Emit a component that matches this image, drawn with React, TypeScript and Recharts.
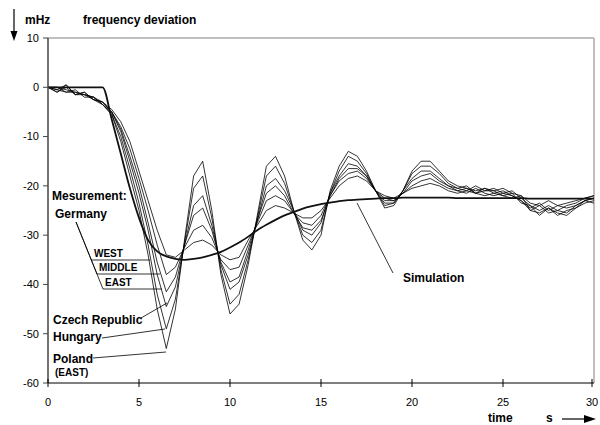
import { LineChart, Line, XAxis, YAxis, ReferenceLine } from "recharts";

// seconds
const time = [
  0, 0.5, 1, 1.5, 2, 2.5, 3, 3.5, 4, 4.5, 5, 5.5, 6, 6.5, 7, 7.5, 8, 8.5, 9, 9.5,
  10, 10.5, 11, 11.5, 12, 12.5, 13, 13.5, 14, 14.5, 15, 15.5, 16, 16.5, 17, 17.5,
  18, 18.5, 19, 19.5, 20, 20.5, 21, 21.5, 22, 22.5, 23, 23.5, 24, 24.5, 25, 25.5,
  26, 26.5, 27, 27.5, 28, 28.5, 29, 29.5, 30,
];

// mHz
const simulation = [
  0, 0, 0, 0, 0, 0, 0,
  -6.5, -13.5, -20.5, -26.5, -31, -33.3, -34.3, -34.8, -35, -34.8,
  -34.5, -34, -33.4, -32.5, -31.5, -30.3, -29, -27.9, -26.9, -26,
  -25.3, -24.6, -24.1, -23.7, -23.4, -23.1, -22.9, -22.8, -22.7, -22.6,
  -22.5, -22.5, -22.4, -22.4, -22.4, -22.4, -22.4, -22.4, -22.5, -22.5,
  -22.5, -22.5, -22.5, -22.5, -22.5, -22.5, -22.6, -22.6, -22.6, -22.6,
  -22.6, -22.6, -22.6, -22.6,
];

const west = [
  0, -0.5, -1, -0.5, -2, -2, -3,
  -4.5, -7, -11, -17, -23, -29, -34, -34.5, -33, -31.5,
  -31, -32, -34, -35, -34.5, -31, -28, -25, -24, -24.5,
  -25.5, -26.5, -26.5, -25, -22.5, -20, -18.5, -18, -19, -21,
  -22, -22.5, -21.5, -20.5, -20, -19.5, -20, -21, -21.5, -21,
  -21.5, -22, -21.5, -22, -22.5, -22, -23.5, -24, -23, -24,
  -23.5, -23, -22.5, -22,
];

const middle = [
  0, 0, -0.5, -1, -1.5, -2.5, -3,
  -5, -8, -12.5, -18.5, -25, -32, -38, -36.5, -32.5, -29,
  -28, -30.5, -35, -37, -36.5, -32, -27.5, -23, -22, -23,
  -25.5, -27.5, -28, -26, -22, -19, -17.5, -17, -18.5, -21,
  -22.5, -23, -21.5, -20, -19, -18.5, -19.5, -20.5, -21, -21.5,
  -20.5, -21.5, -22, -21.5, -22, -23, -24.5, -23.5, -25, -24,
  -24.5, -24, -23, -22.5,
];

const east = [
  0, 0, -1, -1, -1.5, -2, -3.5,
  -5, -8.5, -14, -20, -27.5, -35.5, -41.5, -38.5, -32, -26,
  -24.5, -29, -35.5, -39.5, -38.5, -33, -27, -21.5, -20, -22,
  -25.5, -28.5, -29, -27, -22, -18.5, -16.5, -16.5, -18, -21,
  -23, -23, -21.5, -19, -18, -17.5, -19, -20, -21, -20.5,
  -21.5, -21, -20.5, -21.5, -21, -22.5, -24, -25, -24, -25,
  -24, -23.5, -22.5, -22,
];

const czech = [
  0, -1, 0, -1.5, -1, -2.5, -3,
  -5, -9, -15, -21.5, -29, -38, -44.5, -40.5, -32, -24,
  -22, -28, -36, -41, -39.5, -34, -27, -20, -18.5, -21,
  -25, -29, -30, -27.5, -21.5, -18, -15.5, -16, -18, -21,
  -23.5, -23.5, -21, -18.5, -17, -17, -18.5, -20, -20.5, -21,
  -20, -21, -21, -20.5, -21.5, -22, -25, -24, -25.5, -25,
  -25.5, -24, -23, -22.5,
];

const hungary = [
  0, -0.5, 0.5, -1.5, -1.5, -2, -3.5,
  -5.5, -10, -16.5, -23.5, -32, -42, -49, -43, -31.5, -20.5,
  -18, -26.5, -37, -44, -42, -35, -26.5, -18, -16, -19.5,
  -25, -30, -31.5, -29, -21.5, -17, -14, -15, -17.5, -21,
  -24, -23.5, -21, -17.5, -16, -16, -17.5, -19.5, -20.5, -20,
  -21.5, -20.5, -21, -22, -21.5, -23.5, -24, -26, -24.5, -25.5,
  -26, -24.5, -23, -23.5,
];

const poland = [
  0, -1, 0.5, -1.5, -1, -2.5, -3.5,
  -5.5, -11, -18, -25, -34, -45, -53, -45, -31, -18,
  -15, -25, -38, -46, -44, -36, -26, -16, -14, -18,
  -25, -31, -33, -30, -21, -16, -13, -14, -17, -21,
  -24.5, -24, -21, -17, -15, -15, -17, -19, -20, -20.5,
  -21, -20.5, -21.5, -21, -22, -23, -25, -25.5, -24.5, -26,
  -25, -24.5, -23.5, -23,
];

const xTicks = [0, 5, 10, 15, 20, 25, 30];
const yTicks = [-60, -50, -40, -30, -20, -10, 0, 10];

const rows = time.map((t, i) => ({
  t,
  simulation: simulation[i],
  west: west[i],
  middle: middle[i],
  east: east[i],
  czech: czech[i],
  hungary: hungary[i],
  poland: poland[i],
}));

const measured = ["west", "middle", "east", "czech", "hungary", "poland"];

const font = "Arial, 'Liberation Sans', sans-serif";

const XTick = (props: any) => {
  const { x, y, payload } = props;
  const axisY = y - 12; // tickSize + tickMargin
  return (
    <g>
      <line x1={x} x2={x} y1={axisY - 4} y2={axisY + 4} stroke="#000" />
      <text x={x} y={axisY + 23} textAnchor="middle" fontSize={11} fontFamily={font} fill="#000">
        {payload.value}
      </text>
    </g>
  );
};

const Label = ({ x, y, size = 12, children }: any) => (
  <text x={x} y={y} fontSize={size} fontWeight="bold" fontFamily={font} fill="#000">
    {children}
  </text>
);

export default function App() {
  return (
    <div style={{ position: "absolute", left: 0, top: 0, width: 600, height: 425, background: "#fff" }}>
      <LineChart width={600} height={425} data={rows} margin={{ top: 38, right: 6, bottom: 0, left: 8 }}>
        <XAxis
          dataKey="t"
          type="number"
          domain={[0, 30]}
          ticks={xTicks}
          height={42}
          tickSize={4}
          tickMargin={8}
          tickLine={false}
          tick={<XTick />}
          axisLine={{ stroke: "#000", strokeWidth: 1.2 }}
        />
        <YAxis
          type="number"
          domain={[-60, 10]}
          ticks={yTicks}
          width={40}
          tickSize={5}
          tickMargin={4}
          tick={{ fontSize: 11, fontFamily: font, fill: "#000" }}
          tickLine={{ stroke: "#444" }}
          axisLine={{ stroke: "#444", strokeWidth: 1.5 }}
        />
        <ReferenceLine y={10} stroke="#aaa" strokeWidth={1.5} />
        <ReferenceLine x={30} stroke="#aaa" strokeWidth={1.5} />
        {measured.map((k) => (
          <Line
            key={k}
            dataKey={k}
            type="linear"
            stroke="#000"
            strokeWidth={0.8}
            dot={false}
            isAnimationActive={false}
          />
        ))}
        <Line
          dataKey="simulation"
          type="monotone"
          stroke="#111"
          strokeWidth={1.8}
          dot={false}
          isAnimationActive={false}
        />
      </LineChart>
      <svg
        width={600}
        height={425}
        style={{ position: "absolute", left: 0, top: 0, pointerEvents: "none" }}
      >
        {/* axis titles */}
        <line x1={14} y1={9} x2={14} y2={32} stroke="#000" strokeWidth={1.2} />
        <polygon points="10.5,31 17.5,31 14,41" fill="#000" />
        <Label x={25} y={24}>mHz</Label>
        <Label x={83} y={24}>frequency deviation</Label>
        <Label x={488} y={422}>time</Label>
        <Label x={546} y={422}>s</Label>
        <line x1={562} y1={419} x2={586} y2={419} stroke="#000" strokeWidth={1.2} />
        <polygon points="584,415 584,423 596,419" fill="#000" />

        {/* measurement labels */}
        <Label x={52} y={200}>Mesurement:</Label>
        <Label x={55} y={218}>Germany</Label>
        <Label x={94} y={257} size={10}>WEST</Label>
        <Label x={99} y={271} size={10}>MIDDLE</Label>
        <Label x={105} y={286} size={10}>EAST</Label>
        <line x1={76} y1={222} x2={97} y2={274} stroke="#000" strokeWidth={0.8} />
        <line x1={76} y1={222} x2={103} y2={289} stroke="#000" strokeWidth={0.8} />
        <line x1={91} y1={260} x2={150} y2={260} stroke="#000" strokeWidth={0.8} />
        <line x1={97} y1={274} x2={160} y2={274} stroke="#000" strokeWidth={0.8} />
        <line x1={103} y1={289} x2={162} y2={289} stroke="#000" strokeWidth={0.8} />

        <Label x={53} y={324}>Czech Republic</Label>
        <line x1={141} y1={318} x2={167} y2={303} stroke="#000" strokeWidth={0.8} />
        <Label x={53} y={341}>Hungary</Label>
        <line x1={102} y1={338} x2={165} y2={329} stroke="#000" strokeWidth={0.8} />
        <Label x={53} y={363}>Poland</Label>
        <line x1={93} y1={358} x2={166} y2={352} stroke="#000" strokeWidth={0.8} />
        <Label x={55} y={376} size={10}>(EAST)</Label>

        <Label x={403} y={282}>Simulation</Label>
        <line x1={357} y1={203} x2={393} y2={273} stroke="#000" strokeWidth={0.8} />
      </svg>
    </div>
  );
}
